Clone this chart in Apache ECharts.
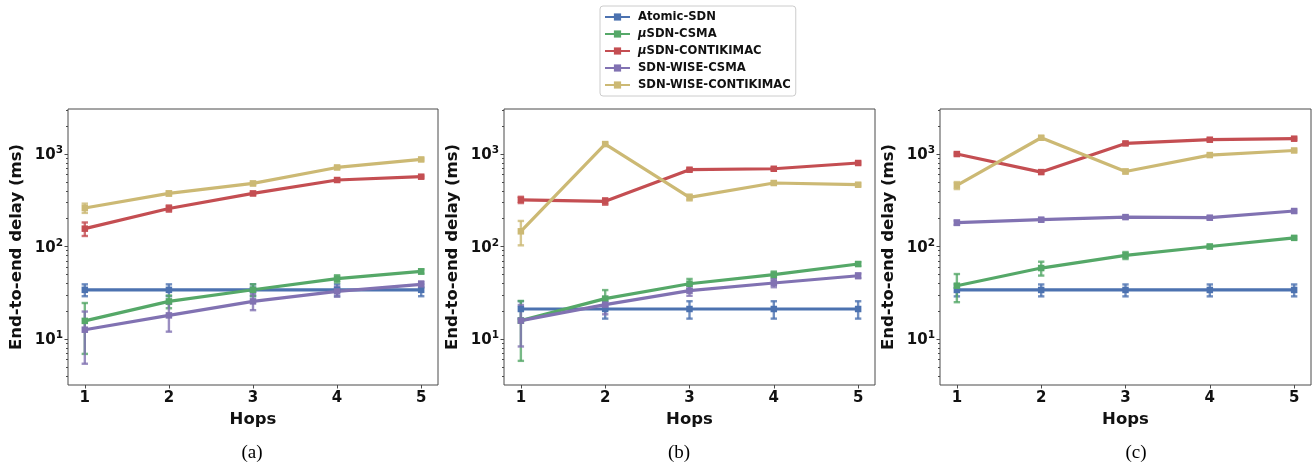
<!DOCTYPE html>
<html>
<head>
<meta charset="utf-8">
<title>End-to-end delay vs hops</title>
<script src="https://cdn.jsdelivr.net/npm/echarts@6/dist/echarts.min.js"></script>
<style>
  html, body { margin: 0; padding: 0; background: #fff; }
  #chart { width: 1316px; height: 470px; }
</style>
</head>
<body>
<div id="chart"></div>
<script>
  const hops = [1, 2, 3, 4, 5]
  const methods = ['Atomic-SDN', 'μSDN-CSMA', 'μSDN-CONTIKIMAC', 'SDN-WISE-CSMA', 'SDN-WISE-CONTIKIMAC']
  const colors = ['#4C72B0', '#55A868', '#C44E52', '#8172B2', '#CCB974']
  const yTicks = [10, 100, 1000]
  const captions = ['(a)', '(b)', '(c)']

  // (a)
  const atomicA = [34, 34, 34, 34, 34]
  const atomicErrA = [5, 5, 5, 5, 5]
  const usdnCsmaA = [15.7, 25.5, 34.1, 44.9, 53.8]
  const usdnCsmaErrA = [8.8, 4, 5, 4, 3]
  const usdnCmacA = [156, 258, 375, 524, 569]
  const usdnCmacErrA = [26, 20, 15, 20, 15]
  const wiseCsmaA = [12.6, 18, 25.5, 32.7, 39]
  const wiseCsmaErrA = [7.2, 6, 5, 4, 3]
  const wiseCmacA = [261, 375, 481, 716, 874]
  const wiseCmacErrA = [30, 20, 20, 25, 25]

  // (b)
  const atomicB = [21.1, 21.1, 21.1, 21.1, 21.1]
  const atomicErrB = [4.5, 4.5, 4.5, 4.5, 4.5]
  const usdnCsmaB = [15.8, 27.3, 39.6, 49.6, 64.7]
  const usdnCsmaErrB = [10, 6.5, 5, 4, 3]
  const usdnCmacB = [320, 308, 677, 693, 800]
  const usdnCmacErrB = [25, 25, 20, 20, 25]
  const wiseCsmaB = [15.8, 23.5, 33.3, 40.3, 48.3]
  const wiseCsmaErrB = [7.5, 5, 4, 4, 3]
  const wiseCmacB = [146, 1282, 340, 486, 466]
  const wiseCmacErrB = [43, 40, 25, 20, 15]

  // (c)
  const atomicC = [33.9, 33.9, 33.9, 33.9, 33.9]
  const atomicErrC = [5, 5, 5, 5, 5]
  const usdnCsmaC = [37.7, 58.5, 80.2, 100, 124]
  const usdnCsmaErrC = [12.7, 10, 7, 4, 4]
  const usdnCmacC = [1000, 638, 1303, 1429, 1466]
  const usdnCmacErrC = [30, 25, 40, 40, 40]
  const wiseCsmaC = [181, 195, 208, 205, 242]
  const wiseCsmaErrC = [10, 8, 8, 8, 8]
  const wiseCmacC = [458, 1501, 648, 975, 1093]
  const wiseCmacErrC = [40, 60, 30, 30, 30]

  const panels = [
    {
      means: [atomicA, usdnCsmaA, usdnCmacA, wiseCsmaA, wiseCmacA],
      errs: [atomicErrA, usdnCsmaErrA, usdnCmacErrA, wiseCsmaErrA, wiseCmacErrA]
    },
    {
      means: [atomicB, usdnCsmaB, usdnCmacB, wiseCsmaB, wiseCmacB],
      errs: [atomicErrB, usdnCsmaErrB, usdnCmacErrB, wiseCsmaErrB, wiseCmacErrB]
    },
    {
      means: [atomicC, usdnCsmaC, usdnCmacC, wiseCsmaC, wiseCmacC],
      errs: [atomicErrC, usdnCsmaErrC, usdnCmacErrC, wiseCsmaErrC, wiseCmacErrC]
    }
  ]

  const font = 'DejaVu Sans'
  const frameColor = '#4a4a4a'
  const yMin = 3.18
  const yMax = 3070
  const gridLefts = [68, 504, 940]
  const gridWidths = [370, 371, 371]
  const captionX = [252, 679, 1136]

  // log minor ticks 2..9 x 10^k inside the axis range
  const minorTicks = []
  ;[1, 10, 100, 1000].forEach(d => {
    for (let m = 2; m <= 9; m++) {
      const v = m * d
      if (v > yMin && v < yMax) minorTicks.push(v)
    }
  })

  const tickFont = { fontFamily: font, fontWeight: 'bold', fontSize: 15, color: '#111' }
  const nameFont = { fontFamily: font, fontWeight: 'bold', fontSize: 16.5, color: '#111' }

  function renderErrorBar(params, api) {
    const x = api.value(0)
    const lo = api.coord([x, api.value(1)])
    const hi = api.coord([x, api.value(2)])
    const cap = 3.2
    const style = { stroke: api.visual('color'), lineWidth: 2.4, opacity: 0.8 }
    return {
      type: 'group',
      children: [
        { type: 'line', shape: { x1: lo[0], y1: lo[1], x2: hi[0], y2: hi[1] }, style },
        { type: 'line', shape: { x1: lo[0] - cap, y1: lo[1], x2: lo[0] + cap, y2: lo[1] }, style },
        { type: 'line', shape: { x1: hi[0] - cap, y1: hi[1], x2: hi[0] + cap, y2: hi[1] }, style }
      ]
    }
  }

  const grids = []
  const xAxes = []
  const yAxes = []
  const lineSeries = []
  const errSeries = []

  panels.forEach((panel, i) => {
    grids.push({
      left: gridLefts[i],
      top: 109,
      width: gridWidths[i],
      height: 276,
      show: true,
      borderColor: frameColor,
      borderWidth: 1,
      backgroundColor: 'transparent'
    })
    xAxes.push({
      type: 'value',
      gridIndex: i,
      min: 0.8,
      max: 5.2,
      name: 'Hops',
      nameLocation: 'middle',
      nameGap: 23,
      nameTextStyle: nameFont,
      axisLine: { show: false },
      splitLine: { show: false },
      axisTick: { customValues: hops, length: 3.5, lineStyle: { color: frameColor } },
      axisLabel: Object.assign({ customValues: hops, margin: 6 }, tickFont)
    })
    yAxes.push({
      type: 'log',
      logBase: 10,
      gridIndex: i,
      position: 'left',
      min: yMin,
      max: yMax,
      name: 'End-to-end delay (ms)',
      nameLocation: 'middle',
      nameGap: 43,
      nameTextStyle: nameFont,
      axisLine: { show: false },
      splitLine: { show: false },
      axisTick: { customValues: yTicks, length: 3.5, lineStyle: { color: frameColor } },
      axisLabel: {
        customValues: yTicks,
        margin: 5,
        formatter: v => '{b|10}{s|' + Math.round(Math.log10(v)) + '}',
        rich: {
          b: { fontFamily: font, fontWeight: 'bold', fontSize: 15, color: '#111', padding: [3, 0, 0, 0] },
          s: { fontFamily: font, fontWeight: 'bold', fontSize: 10.5, color: '#111', verticalAlign: 'top' }
        }
      }
    })
    yAxes.push({
      type: 'log',
      logBase: 10,
      gridIndex: i,
      position: 'left',
      offset: 0,
      min: yMin,
      max: yMax,
      axisLine: { show: false },
      splitLine: { show: false },
      axisLabel: { show: false },
      axisTick: { customValues: minorTicks, length: 2, lineStyle: { color: frameColor } }
    })

    panel.means.forEach((vals, k) => {
      lineSeries.push({
        type: 'line',
        name: methods[k],
        xAxisIndex: i,
        yAxisIndex: i * 2,
        data: hops.map((h, j) => [h, vals[j]]),
        symbol: 'rect',
        symbolSize: 6.5,
        lineStyle: { width: 3.2, color: colors[k] },
        itemStyle: { color: colors[k] },
        emphasis: { disabled: true },
        z: 3
      })
      errSeries.push({
        type: 'custom',
        name: methods[k],
        xAxisIndex: i,
        yAxisIndex: i * 2,
        renderItem: renderErrorBar,
        itemStyle: { color: colors[k] },
        encode: { x: 0, y: [1, 2] },
        data: hops.map((h, j) => [h, vals[j] - panel.errs[k][j], vals[j] + panel.errs[k][j]]),
        z: 2
      })
    })
  })

  const chart = echarts.init(document.getElementById('chart'))
  chart.setOption({
    animation: false,
    color: colors,
    legend: {
      data: methods,
      orient: 'vertical',
      left: 600,
      top: 6,
      itemWidth: 25,
      itemHeight: 9,
      itemGap: 5,
      padding: [5, 5, 5, 4],
      borderColor: '#ccc',
      borderWidth: 1,
      borderRadius: 3,
      backgroundColor: '#fff',
      formatter: name => name.replace('μ', '{i|μ}'),
      textStyle: {
        fontFamily: font,
        fontWeight: 'bold',
        fontSize: 11.6,
        color: '#111',
        padding: [0, 0, 0, 3],
        rich: {
          i: { fontFamily: font, fontWeight: 'bold', fontStyle: 'italic', fontSize: 11.6, color: '#111' }
        }
      }
    },
    grid: grids,
    xAxis: xAxes,
    yAxis: yAxes,
    series: lineSeries.concat(errSeries),
    graphic: captions.map((c, i) => ({
      type: 'text',
      x: captionX[i],
      y: 453,
      style: {
        text: c,
        font: '19px "Liberation Serif"',
        fill: '#000',
        textAlign: 'center',
        textVerticalAlign: 'middle'
      }
    }))
  })
</script>
</body>
</html>
